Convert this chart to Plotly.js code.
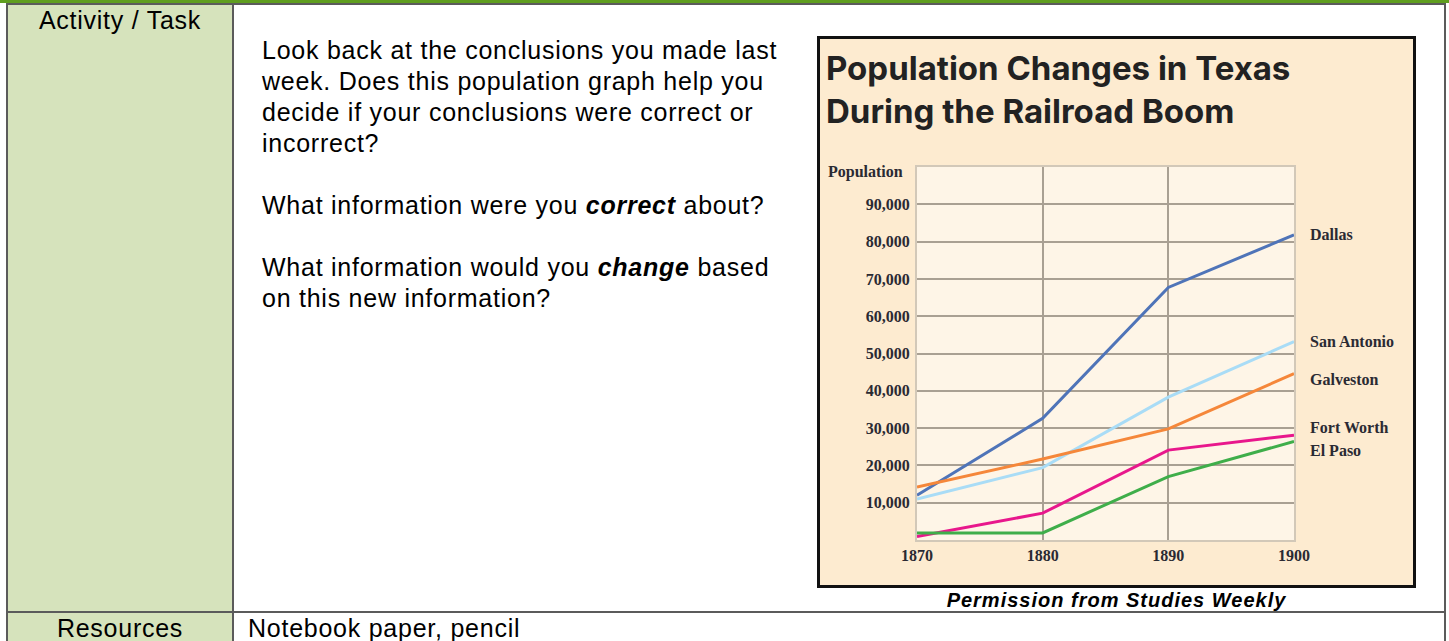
<!DOCTYPE html>
<html><head><meta charset="utf-8">
<script src="https://cdn.plot.ly/plotly-3.0.1.min.js"></script>
<style>
html,body{margin:0;padding:0;width:1449px;height:641px;overflow:hidden;background:#fff;font-family:"Liberation Sans",Arial,sans-serif;color:#000;}
.abs{position:absolute;}
.txt{font-size:25px;line-height:31px;letter-spacing:0.75px;white-space:nowrap;}
</style></head><body>
<div class="abs" style="left:0;top:0;width:1449px;height:3px;background:#5f9e1f"></div>
<div class="abs" style="left:6px;top:3px;width:1440px;height:2px;background:#5b5b5b"></div>
<div class="abs" style="left:8px;top:5px;width:224px;height:636px;background:#d6e3bc"></div>
<div class="abs" style="left:6px;top:5px;width:2px;height:636px;background:#5b5b5b"></div>
<div class="abs" style="left:232px;top:5px;width:2px;height:636px;background:#5b5b5b"></div>
<div class="abs" style="left:1444px;top:5px;width:2px;height:636px;background:#5b5b5b"></div>
<div class="abs" style="left:6px;top:611px;width:1440px;height:2px;background:#5b5b5b"></div>

<div class="abs txt" style="left:8px;width:224px;top:5px;text-align:center;">Activity / Task</div>
<div class="abs txt" style="left:8px;width:224px;top:616px;line-height:25px;text-align:center;">Resources</div>
<div class="abs txt" style="left:248px;top:616px;line-height:25px;">Notebook paper, pencil</div>

<div class="abs txt" style="left:262px;top:35px;">Look back at the conclusions you made last<br>week. Does this population graph help you<br>decide if your conclusions were correct or<br>incorrect?<br><br>What information were you <b><i>correct</i></b> about?<br><br>What information would you <b><i>change</i></b> based<br>on this new information?</div>

<div id="chart" class="abs" style="left:817px;top:36px;width:593px;height:546px;border:3px solid #111;"></div>
<div class="abs" style="left:820px;width:593px;top:589px;text-align:center;font-size:20px;line-height:22px;letter-spacing:1px;font-weight:bold;font-style:italic;white-space:nowrap;">Permission from Studies Weekly</div>

<script>
// ---- data ----
var years = [1870, 1880, 1890, 1900];
var cities = ["Dallas", "San Antonio", "Galveston", "Fort Worth", "El Paso"];
var dallas = [12000, 32600, 67700, 81800];
var sanAntonio = [11000, 19400, 38300, 53200];
var galveston = [14200, 21700, 29800, 44600];
var fortWorth = [900, 7200, 24100, 28100];
var elPaso = [1900, 1900, 17000, 26400];
var yTicks = [10000, 20000, 30000, 40000, 50000, 60000, 70000, 80000, 90000];
var xTicks = [1870, 1880, 1890, 1900];
var titleLines = ["Population Changes in Texas", "During the Railroad Boom"];
var yLabel = "Population";

// ---- styles ----
var series = [dallas, sanAntonio, galveston, fortWorth, elPaso];
var colors = ["#4f74b8", "#a9dcf6", "#f5873a", "#e8178c", "#3fae4a"];
var labelShift = [0, 0, -6, 8, -9];
var serifBold = {family: "Liberation Serif, Times New Roman, serif", size: 16, color: "#2a2a33", weight: "bold"};
var titleFont = {family: "Inter, Lato, sans-serif", size: 33, color: "#222", weight: "bold"};

var traces = series.map(function (s, i) {
  return {x: years, y: s, type: "scatter", mode: "lines", name: cities[i],
          line: {color: colors[i], width: 3}, hoverinfo: "skip"};
});

// plot area in page pixels: left 917, right 1294, top 167, bottom 540
function px(X) { return (X - 917) / 377; }
function py(Y) { return (540 - Y) / 373; }

var annotations = [
  {text: titleLines[0], xref: "paper", yref: "paper", x: px(824), y: py(68), xanchor: "left", yanchor: "middle",
   showarrow: false, font: titleFont},
  {text: titleLines[1], xref: "paper", yref: "paper", x: px(824), y: py(111), xanchor: "left", yanchor: "middle",
   showarrow: false, font: titleFont},
  {text: yLabel, xref: "paper", yref: "paper", x: px(826), y: py(172), xanchor: "left", yanchor: "middle",
   showarrow: false, font: serifBold}
];
cities.forEach(function (c, i) {
  var s = series[i];
  annotations.push({text: c, x: years[years.length - 1], y: s[s.length - 1], xref: "x", yref: "y",
    xanchor: "left", yanchor: "middle", xshift: 14, yshift: labelShift[i], showarrow: false, font: serifBold});
});

var layout = {
  width: 593, height: 546,
  margin: {l: 97, r: 119, t: 128, b: 45, pad: 0},
  paper_bgcolor: "#fdebd0", plot_bgcolor: "#fef5e7",
  showlegend: false,
  xaxis: {range: [1870, 1900], tickvals: xTicks, ticktext: xTicks.map(String), showgrid: true,
          gridcolor: "#a9a093", gridwidth: 2, zeroline: false, showline: true, mirror: true,
          linecolor: "#d2c8b8", linewidth: 2, ticks: "", tickfont: serifBold, fixedrange: true},
  yaxis: {range: [0, 100000], tickvals: yTicks, ticktext: yTicks.map(function (v) { return v.toLocaleString("en-US"); }),
          showgrid: true, gridcolor: "#a9a093", gridwidth: 2, zeroline: false, showline: true, mirror: true,
          linecolor: "#d2c8b8", linewidth: 2, ticks: "outside", ticklen: 2, tickcolor: "rgba(0,0,0,0)",
          tickfont: serifBold, fixedrange: true},
  annotations: annotations
};

Plotly.newPlot("chart", traces, layout, {staticPlot: true, displayModeBar: false});
</script>
</body></html>
